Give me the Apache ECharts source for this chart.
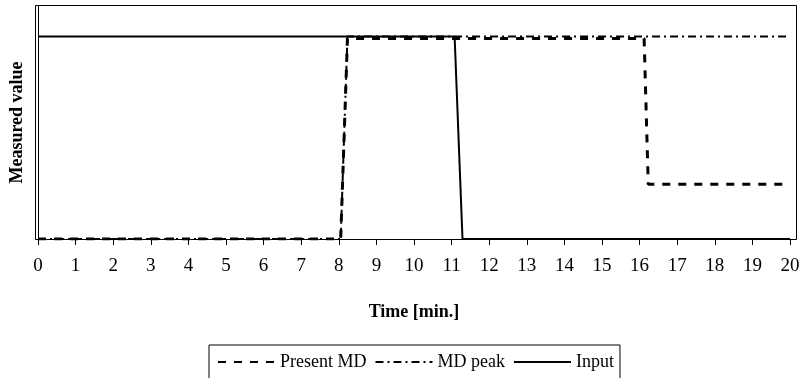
<!DOCTYPE html>
<html>
<head>
<meta charset="utf-8">
<script src="https://cdn.jsdelivr.net/npm/echarts@6/dist/echarts.min.js"></script>
<style>
  html, body { margin: 0; padding: 0; background: #fff; }
  #chart { width: 808px; height: 378px; }
</style>
</head>
<body>
<div id="chart"></div>
<script>
  // time points (min) and measured values for each trace
  const presentTime = [0, 8.05, 8.23, 16.12, 16.23, 20]
  const presentMd = [0, 0, 0.99, 0.99, 0.27, 0.27]
  const peakTime = [0, 8.05, 8.23, 20]
  const mdPeak = [0, 0, 1, 1]
  const inputTime = [0, 11.08, 11.29, 20]
  const inputValues = [1, 1, 0, 0]

  const pairs = (xs, ys) => xs.map((x, i) => [x, ys[i]])

  const font = 'Liberation Serif'
  const chart = echarts.init(document.getElementById('chart'), null, { renderer: 'canvas' })

  const option = {
    animation: false,
    backgroundColor: '#fff',
    grid: { left: 35.5, right: 18, top: 6, bottom: 139 },
    xAxis: {
      type: 'value',
      min: 0,
      max: 20,
      interval: 1,
      name: 'Time [min.]',
      nameLocation: 'middle',
      nameGap: 64,
      nameTextStyle: { fontFamily: font, fontSize: 18, fontWeight: 'bold', color: '#000' },
      axisLine: { show: true, lineStyle: { color: '#000', width: 1 } },
      axisTick: { show: true, inside: false, length: 6, lineStyle: { color: '#000' } },
      axisLabel: { fontFamily: font, fontSize: 19, color: '#000', margin: 18 },
      splitLine: { show: false }
    },
    yAxis: {
      type: 'value',
      min: 0,
      max: 1.15,
      name: 'Measured value',
      nameLocation: 'middle',
      nameGap: 12,
      nameTextStyle: { fontFamily: font, fontSize: 18, fontWeight: 'bold', color: '#000' },
      axisLine: { show: true, lineStyle: { color: '#000', width: 1 } },
      axisTick: { show: false },
      axisLabel: { show: false },
      splitLine: { show: false }
    },
    legend: {
      left: 209,
      top: 345,
      padding: [8, 6, 20, 8],
      itemWidth: 57,
      itemHeight: 12,
      itemGap: 8,
      itemStyle: { opacity: 0 },
      borderColor: '#000',
      borderWidth: 1,
      textStyle: { fontFamily: font, fontSize: 18, color: '#000' },
      data: ['Present MD', 'MD peak', 'Input']
    },
    graphic: [
      {
        type: 'rect',
        shape: { x: 35.5, y: 5.5, width: 761, height: 234 },
        style: { fill: 'none', stroke: '#000', lineWidth: 1 },
        silent: true,
        z: 10
      }
    ],
    series: [
      {
        name: 'Input',
        type: 'line',
        symbol: 'none',
        data: pairs(inputTime, inputValues),
        lineStyle: { color: '#000', width: 2, type: 'solid' },
        itemStyle: { color: '#000' },
        z: 2
      },
      {
        name: 'MD peak',
        type: 'line',
        symbol: 'none',
        data: pairs(peakTime, mdPeak),
        lineStyle: { color: '#000', width: 2, type: [8, 4, 2, 4] },
        itemStyle: { color: '#000' },
        z: 3
      },
      {
        name: 'Present MD',
        type: 'line',
        symbol: 'none',
        data: pairs(presentTime, presentMd),
        lineStyle: { color: '#000', width: 3, type: [8, 8] },
        itemStyle: { color: '#000' },
        z: 4
      }
    ]
  }

  chart.setOption(option)
</script>
</body>
</html>
